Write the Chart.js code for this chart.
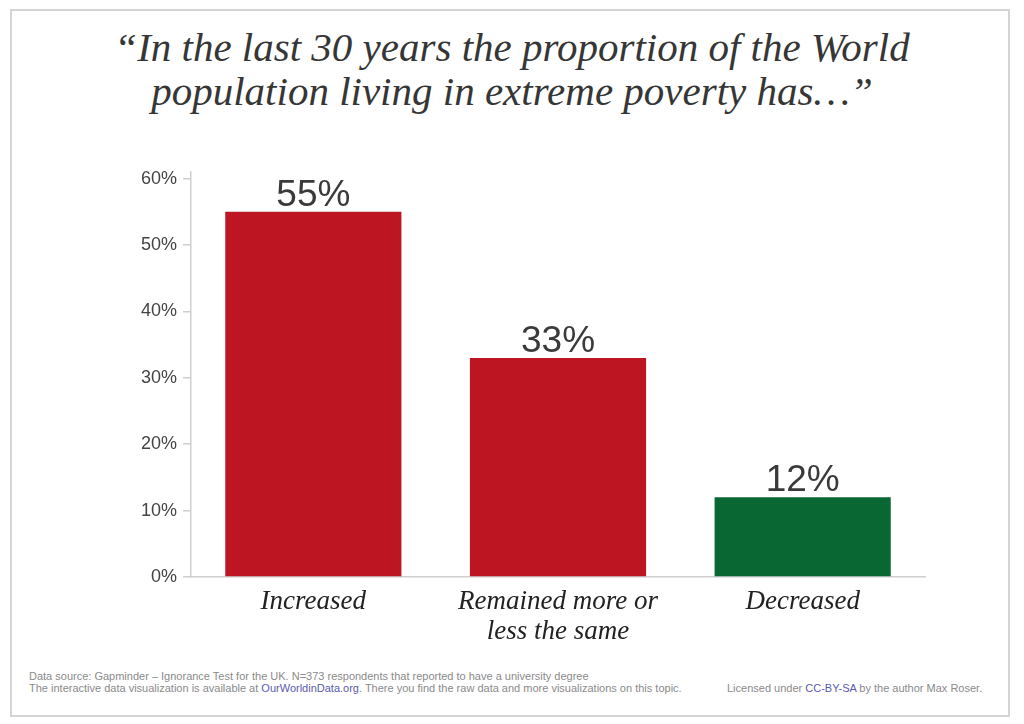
<!DOCTYPE html>
<html>
<head>
<meta charset="utf-8">
<script src="https://cdn.jsdelivr.net/npm/chart.js@4.4.1/dist/chart.umd.min.js"></script>
<style>
  html, body { margin: 0; padding: 0; background: #fff; }
  body { width: 1024px; height: 724px; position: relative; overflow: hidden; }
  #frame { position: absolute; left: 10px; top: 9px; width: 996px; height: 704px;
    border: 2px solid #d4d4d4; }
  #title { position: absolute; left: 0; top: 25px; width: 1024px; margin: 0; text-align: center;
    font: italic 400 41px/44px "Liberation Serif", serif; color: #363636; }
  #wrap { position: absolute; left: 10px; top: 9px; width: 1000px; height: 640px; }
  .foot { position: absolute; font: 11px/12px "Liberation Sans", Arial, sans-serif; color: #8a8a8a;
    white-space: nowrap; }
  .foot a { color: #5a5ab0; text-decoration: none; }
</style>
</head>
<body>
<div id="frame"></div>
<h1 id="title">“In the last 30 years the proportion of the World<br>population living in extreme poverty has…”</h1>
<div id="wrap"><canvas id="chart"></canvas></div>
<div class="foot" style="left:29px; top:670px;">Data source: Gapminder – Ignorance Test for the UK. N=373 respondents that reported to have a university degree<br>The interactive data visualization is available at <a href="#">OurWorldinData.org</a>. There you find the raw data and more visualizations on this topic.</div>
<div class="foot" style="left:727px; top:682px;">Licensed under <a href="#">CC-BY-SA</a> by the author Max Roser.</div>
<script>
  const categories = ["Increased", ["Remained more or", "less the same"], "Decreased"];
  const shares = [55, 33, 12];
  const barColors = ["#bd1622", "#bd1622", "#096734"];
  const yTicks = [0, 10, 20, 30, 40, 50, 60];

  // value labels above each bar
  const valueLabels = {
    id: "valueLabels",
    afterDatasetsDraw(chart) {
      const ctx = chart.ctx;
      const meta = chart.getDatasetMeta(0);
      ctx.save();
      ctx.font = '37px "Liberation Sans", Arial, sans-serif';
      ctx.fillStyle = "#3a3a3a";
      ctx.textAlign = "center";
      ctx.textBaseline = "alphabetic";
      meta.data.forEach((bar, i) => {
        ctx.fillText(shares[i] + "%", bar.x, bar.y - 6);
      });
      ctx.restore();
    },
  };

  new Chart(document.getElementById("chart"), {
    type: "bar",
    data: {
      labels: categories,
      datasets: [{ data: shares, backgroundColor: barColors, borderWidth: 0,
        categoryPercentage: 0.72, barPercentage: 1 }],
    },
    options: {
      responsive: true, maintainAspectRatio: false, animation: false,
      devicePixelRatio: 1,
      layout: { padding: { top: 163, right: 85, left: 0, bottom: 0 } },
      plugins: { legend: { display: false }, tooltip: { enabled: false } },
      scales: {
        x: {
          grid: { display: false, drawTicks: false },
          border: { display: true, color: "#cfcfcf", width: 1.5 },
          ticks: { color: "#222", padding: 10,
            font: { family: '"Liberation Serif", serif', style: "italic", size: 27, lineHeight: 1.1 } },
          afterFit: (s) => { s.height = 72; },
        },
        y: {
          min: 0, max: 61,
          afterBuildTicks: (s) => { s.ticks = yTicks.map((v) => ({ value: v })); },
          grid: { drawOnChartArea: false, color: "#cfcfcf", tickLength: 8, lineWidth: 1.5 },
          border: { display: true, color: "#cfcfcf", width: 1.5 },
          ticks: { color: "#444", padding: 6, callback: (v) => v + "%",
            font: { family: '"Liberation Sans", Arial, sans-serif', size: 18 } },
          afterFit: (s) => { s.width = 181; },
        },
      },
    },
    plugins: [valueLabels],
  });
</script>
</body>
</html>
